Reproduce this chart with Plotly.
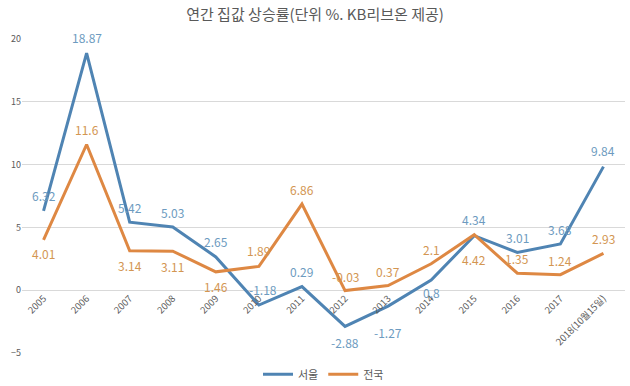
import plotly.graph_objects as go

years = ["2005", "2006", "2007", "2008", "2009", "2010", "2011", "2012", "2013",
         "2014", "2015", "2016", "2017", "2018(10월15일)"]
seoul = [6.32, 18.87, 5.42, 5.03, 2.65, -1.18, 0.29, -2.88, -1.27, 0.8, 4.34, 3.01, 3.68, 9.84]
nation = [4.01, 11.6, 3.14, 3.11, 1.46, 1.89, 6.86, -0.03, 0.37, 2.1, 4.42, 1.35, 1.24, 2.93]

# label vertical offsets in pixels (style only)
seoul_shift = [15, 16, 15, 15, 15, 16, 15, -16, -26, -12, 16, 15, 14, 16]
nation_shift = [-14, 15, -15, -15, -15, 16, 15, 14, 14, 14, -25, 15, 14, 15]
seoul_xshift = [0, 0, 0, 0, 0, 4, 0, 0, 0, 0, 0, 0, 0, 0]

blue = "#4f84b3"
orange = "#de8843"
blue_txt = "#6d9bc0"
orange_txt = "#d39652"
font_family = "Noto Sans CJK KR, Noto Sans, sans-serif"

fig = go.Figure()
fig.add_trace(go.Scatter(
    x=years, y=seoul, name="서울", mode="lines",
    line=dict(color=blue, width=3), cliponaxis=False,
))
fig.add_trace(go.Scatter(
    x=years, y=nation, name="전국", mode="lines",
    line=dict(color=orange, width=3), cliponaxis=False,
))

annotations = []
for i, (v, s, xs) in enumerate(zip(seoul, seoul_shift, seoul_xshift)):
    annotations.append(dict(x=i, y=v, text=str(v), showarrow=False, yshift=s, xshift=xs,
                            font=dict(size=12, color=blue_txt, family=font_family)))
for i, (v, s) in enumerate(zip(nation, nation_shift)):
    annotations.append(dict(x=i, y=v, text=str(v), showarrow=False, yshift=s,
                            font=dict(size=12, color=orange_txt, family=font_family)))

fig.update_layout(
    width=630, height=386,
    margin=dict(l=22, r=5, t=39, b=33, autoexpand=False),
    paper_bgcolor="white", plot_bgcolor="white",
    title=dict(text="연간 집값 상승률(단위 %. KB리브온 제공)", x=0.5, xanchor="center",
               y=0.963, yanchor="middle",
               font=dict(size=15, color="#595959", family=font_family)),
    font=dict(family=font_family, color="#595959"),
    showlegend=True,
    legend=dict(orientation="h", x=0.5, xanchor="center", y=-0.068, yref="paper",
                yanchor="middle",
                font=dict(size=11, color="#595959"), traceorder="normal"),
    annotations=annotations,
    xaxis=dict(
        type="category", anchor="free", position=0.2, range=[-0.5, 13.5],
        tickangle=-45, tickfont=dict(size=9.5, color="#595959"), automargin=False,
        showgrid=False, showline=False, ticks="", zeroline=False,
    ),
    yaxis=dict(
        range=[-5, 20], dtick=5, tickfont=dict(size=9, color="#595959"), automargin=False,
        showgrid=True, gridcolor="#d9d9d9", gridwidth=1, zeroline=False,
        showline=False, ticks="",
    ),
)

fig.write_html("out.html", config={"displayModeBar": False},
               post_script="document.body.style.margin='0';")
